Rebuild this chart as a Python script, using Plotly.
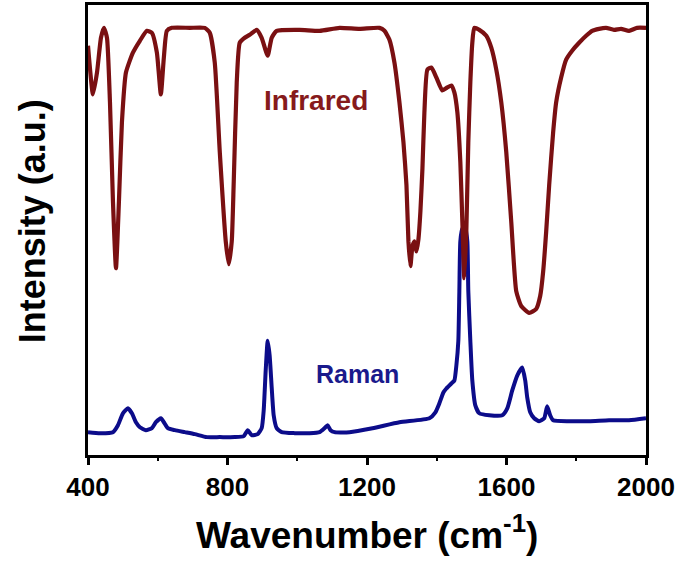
import plotly.graph_objects as go

# Infrared spectrum (wavenumber cm-1, intensity a.u.)
ir_wn = [400, 414.3, 425.8, 437.2, 445.8, 454.4, 463.0, 471.6, 480.2, 488.7,
         497.3, 508.8, 528.8, 548.8, 568.9, 583.2, 597.5, 608.9, 617.5, 626.1,
         640.4, 692.0, 734.9, 749.2, 763.5, 777.9, 795.0, 803.6, 812.2, 817.9,
         826.5, 835.1, 849.4, 863.7, 883.7, 898.0, 915.2, 926.7, 941.0, 1006.8,
         1064.1, 1121.3, 1178.5, 1235.8, 1250.1, 1264.4, 1278.7, 1293.0, 1304.5, 1313.1,
         1318.8, 1324.5, 1330.2, 1336.0, 1341.7, 1347.4, 1353.1, 1358.9, 1364.6, 1373.2,
         1384.6, 1398.9, 1416.1, 1430.4, 1441.9, 1450.5, 1459.1, 1467.6, 1473.4, 1479.1,
         1484.8, 1490.5, 1496.3, 1502.0, 1507.7, 1522.0, 1542.1, 1556.4, 1570.7, 1585.0,
         1599.3, 1613.6, 1627.9, 1642.2, 1665.1, 1685.2, 1696.6, 1705.2, 1713.8, 1722.4,
         1733.8, 1742.4, 1756.7, 1771.0, 1788.2, 1808.2, 1828.3, 1845.5, 1865.5, 1885.5,
         1908.4, 1928.5, 1951.4, 1974.3, 2000]
ir_val = [412, 363, 385, 420, 430, 420, 355, 255, 188, 255,
          335, 385, 405, 417, 427, 425, 405, 363, 400, 427,
          430, 430, 430, 425, 395, 305, 215, 192, 215, 275,
          375, 415, 420, 423, 428, 420, 402, 420, 427, 428,
          427, 430, 429, 430, 427, 418, 395, 355, 315, 272,
          215, 190, 210, 215, 205, 217, 245, 288, 345, 388,
          390, 380, 367, 370, 372, 365, 345, 295, 235, 178,
          225, 315, 375, 415, 430, 428, 422, 410, 388, 355,
          305, 235, 165, 150, 143, 147, 160, 185, 225, 272,
          325, 355, 380, 398, 407, 415, 422, 427, 429, 430,
          428, 429, 427, 430, 430]

# Raman spectrum
ra_wn = [400, 434.3, 471.6, 485.9, 500.2, 514.5, 525.9, 537.4, 548.8, 566.0,
         583.2, 594.6, 608.9, 617.5, 629.0, 649.0, 677.6, 706.3, 740.6, 777.9,
         820.8, 846.5, 858.0, 869.4, 886.6, 898.0, 903.8, 909.5, 915.2, 920.9,
         926.7, 932.4, 941.0, 955.3, 992.5, 1035.4, 1064.1, 1078.4, 1087.0, 1095.5,
         1107.0, 1149.9, 1215.8, 1293.0, 1378.9, 1396.1, 1407.5, 1419.0, 1427.6, 1441.9,
         1450.5, 1456.2, 1461.9, 1464.8, 1467.6, 1473.4, 1482.0, 1487.7, 1490.5, 1496.3,
         1502.0, 1510.6, 1522.0, 1550.6, 1587.9, 1602.2, 1616.5, 1630.8, 1645.1, 1653.7,
         1659.4, 1668.0, 1679.4, 1693.7, 1708.1, 1716.6, 1725.2, 1733.8, 1779.6, 1836.9,
         1894.1, 1951.4, 2000]
ra_val = [23, 22, 23, 30, 42, 47, 42, 33, 28, 25,
          27, 33, 37, 33, 27, 25, 23, 21, 18, 18,
          18, 19, 25, 20, 21, 27, 45, 85, 115, 100,
          68, 40, 27, 23, 22, 22, 23, 27, 30, 25,
          23, 23, 27, 33, 37, 43, 52, 63, 67, 72,
          75, 90, 115, 165, 215, 228, 228, 215, 165, 115,
          75, 50, 42, 40, 40, 47, 65, 80, 88, 75,
          58, 43, 37, 34, 37, 49, 40, 35, 34, 34,
          35, 35, 37]

x_ticks = [400, 800, 1200, 1600, 2000]

IR_COLOR = "#7a1012"
RA_COLOR = "#0c0c8a"
FONT = "Arial, Liberation Sans, sans-serif"

fig = go.Figure()
fig.add_trace(go.Scatter(x=ra_wn, y=ra_val, mode="lines",
                         line=dict(color=RA_COLOR, width=4, shape="spline", smoothing=0.5),
                         showlegend=False))
fig.add_trace(go.Scatter(x=ir_wn, y=ir_val, mode="lines",
                         line=dict(color=IR_COLOR, width=4.2, shape="spline", smoothing=0.5),
                         showlegend=False))

fig.update_layout(
    width=684, height=569,
    margin=dict(l=88, r=38, t=2, b=114),
    plot_bgcolor="white", paper_bgcolor="white",
    font=dict(family=FONT, color="black"),
    xaxis=dict(range=[400, 2000], tickvals=x_ticks, ticktext=[str(v) for v in x_ticks],
               showgrid=False, zeroline=False, showline=True, mirror=True,
               linecolor="black", linewidth=3, ticks="outside", ticklen=7, tickwidth=3,
               tickcolor="black",
               tickfont=dict(family=FONT, size=26, color="black", weight="bold"),
               minor=dict(dtick=200, tick0=400, ticks="outside", ticklen=3, tickwidth=2,
                          tickcolor="black", showgrid=False)),
    yaxis=dict(range=[0, 453], showgrid=False, zeroline=False, showline=True, mirror=True,
               linecolor="black", linewidth=3, ticks="", showticklabels=False),
    annotations=[
        dict(text="Wavenumber (cm<sup>-1</sup>)", xref="paper", yref="paper",
             x=0.5, y=-0.172, xanchor="center", yanchor="middle", showarrow=False,
             font=dict(family=FONT, size=37, color="black", weight="bold")),
        dict(text="Intensity (a.u.)", xref="paper", yref="paper",
             x=-0.099, y=0.519, xanchor="center", yanchor="middle", showarrow=False,
             textangle=-90,
             font=dict(family=FONT, size=36, color="black", weight="bold")),
        dict(text="Infrared", xref="x", yref="y", x=1053, y=357,
             xanchor="center", yanchor="middle", showarrow=False,
             font=dict(family=FONT, size=28, color="#861a1c", weight="bold")),
        dict(text="Raman", xref="x", yref="y", x=1173, y=82,
             xanchor="center", yanchor="middle", showarrow=False,
             font=dict(family=FONT, size=25, color="#1a1a8c", weight="bold")),
    ],
)

fig.write_html("out.html")
